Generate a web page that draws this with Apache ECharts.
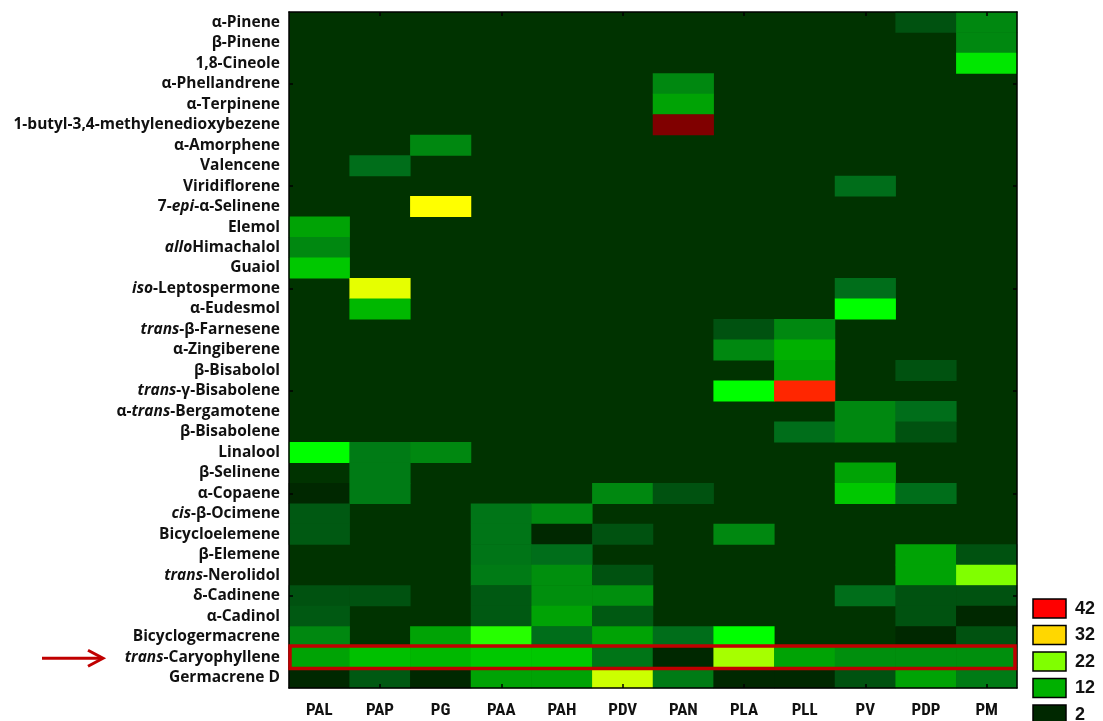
<!DOCTYPE html>
<html>
<head>
<meta charset="utf-8">
<script src="https://cdn.jsdelivr.net/npm/echarts@6/dist/echarts.min.js"></script>
<style>
html, body { margin: 0; background: #fff; }
#chart { width: 1103px; height: 721px; }
</style>
</head>
<body>
<div id="chart"></div>
<script>
// samples (columns)
const samples = ['PAL', 'PAP', 'PG', 'PAA', 'PAH', 'PDV', 'PAN', 'PLA', 'PLL', 'PV', 'PDP', 'PM'];

// compounds (rows, top to bottom); text between underscores is italic
const compounds = [
    'α-Pinene', 'β-Pinene', '1,8-Cineole', 'α-Phellandrene', 'α-Terpinene',
    '1-butyl-3,4-methylenedioxybezene', 'α-Amorphene', 'Valencene', 'Viridiflorene',
    '7-_epi_-α-Selinene', 'Elemol', '_allo_Himachalol', 'Guaiol', '_iso_-Leptospermone',
    'α-Eudesmol', '_trans_-β-Farnesene', 'α-Zingiberene', 'β-Bisabolol',
    '_trans_-γ-Bisabolene', 'α-_trans_-Bergamotene', 'β-Bisabolene', 'Linalool',
    'β-Selinene', 'α-Copaene', '_cis_-β-Ocimene', 'Bicycloelemene', 'β-Elemene',
    '_trans_-Nerolidol', 'δ-Cadinene', 'α-Cadinol', 'Bicyclogermacrene',
    '_trans_-Caryophyllene', 'Germacrene D'
];

// one row per compound, one value per sample (0 = not found)
const values = [
    [0, 0, 0, 0, 0, 0, 0, 0, 0, 0, 5, 9],
    [0, 0, 0, 0, 0, 0, 0, 0, 0, 0, 0, 9],
    [0, 0, 0, 0, 0, 0, 0, 0, 0, 0, 0, 15.5],
    [0, 0, 0, 0, 0, 0, 9, 0, 0, 0, 0, 0],
    [0, 0, 0, 0, 0, 0, 11, 0, 0, 0, 0, 0],
    [0, 0, 0, 0, 0, 0, 52, 0, 0, 0, 0, 0],
    [0, 0, 9, 0, 0, 0, 0, 0, 0, 0, 0, 0],
    [0, 7, 0, 0, 0, 0, 0, 0, 0, 0, 0, 0],
    [0, 0, 0, 0, 0, 0, 0, 0, 0, 7, 0, 0],
    [0, 0, 27, 0, 0, 0, 0, 0, 0, 0, 0, 0],
    [11, 0, 0, 0, 0, 0, 0, 0, 0, 0, 0, 0],
    [9, 0, 0, 0, 0, 0, 0, 0, 0, 0, 0, 0],
    [13.5, 0, 0, 0, 0, 0, 0, 0, 0, 0, 0, 0],
    [0, 26, 0, 0, 0, 0, 0, 0, 0, 7, 0, 0],
    [0, 12.5, 0, 0, 0, 0, 0, 0, 0, 17, 0, 0],
    [0, 0, 0, 0, 0, 0, 0, 5, 9, 0, 0, 0],
    [0, 0, 0, 0, 0, 0, 0, 9, 12, 0, 0, 0],
    [0, 0, 0, 0, 0, 0, 0, 0, 11, 0, 5, 0],
    [0, 0, 0, 0, 0, 0, 0, 17, 40.5, 0, 0, 0],
    [0, 0, 0, 0, 0, 0, 0, 0, 0, 9, 7, 0],
    [0, 0, 0, 0, 0, 0, 0, 0, 7, 9, 5, 0],
    [17, 8, 9, 0, 0, 0, 0, 0, 0, 0, 0, 0],
    [0, 8, 0, 0, 0, 0, 0, 0, 0, 11, 0, 0],
    [2, 8, 0, 0, 0, 9, 5, 0, 0, 13.5, 7, 0],
    [5.5, 0, 0, 7.5, 9, 0, 0, 0, 0, 0, 0, 0],
    [5.5, 0, 0, 7.5, 2, 5, 0, 9, 0, 0, 0, 0],
    [0, 0, 0, 7.5, 7, 0, 0, 0, 0, 0, 11, 5],
    [0, 0, 0, 8, 9.5, 5, 0, 0, 0, 0, 11, 22],
    [5, 5, 0, 5.5, 9.5, 9.5, 0, 0, 0, 7, 5, 5],
    [5.5, 0, 0, 5.5, 11, 5.5, 0, 0, 0, 0, 5, 2],
    [9, 0, 11, 18.5, 7, 11, 7, 17, 0, 0, 2, 5],
    [11, 13, 12.5, 13.5, 13.5, 7.5, 2, 23.5, 11, 9.5, 9.5, 9.5],
    [2, 5.5, 2, 11, 11, 25, 8, 2, 2, 5, 11, 8]
];

// legend levels and their colours
const legendLevels = [42, 32, 22, 12, 2];
const legendColors = ['#ff0000', '#ffd700', '#80ff00', '#00b000', '#002800'];

const highlightRow = '_trans_-Caryophyllene';

// colour stops every 5 units from 2 to 52
const scaleColors = ['#002800', '#006e1a', '#00b000', '#00ff00', '#80ff00', '#ffff00',
    '#ffd700', '#ff8000', '#ff0000', '#c00000', '#800000'];

const cells = [];
values.forEach((row, r) => {
    row.forEach((v, c) => {
        if (v > 0) cells.push([c, r, v]);
    });
});

const fmtName = (name) => name.replace(/_([^_]+)_/g, '{i|$1}');
const labelFont = '"Open Sans", Lato, sans-serif';

const chart = echarts.init(document.getElementById('chart'));

const xTick = { show: true, inside: true, length: 4, alignWithLabel: true,
    interval: (i) => i % 2 === 1, lineStyle: { color: '#000', width: 1.5 } };
const yTick = { show: true, inside: true, length: 4, alignWithLabel: true,
    interval: (i) => i % 5 === 3, lineStyle: { color: '#000', width: 1.5 } };
const axisLine = { show: true, lineStyle: { color: '#000', width: 1.5 } };

const option = {
    animation: false,
    backgroundColor: '#fff',
    grid: {
        left: 289, right: 86, top: 12, bottom: 33,
        show: true, backgroundColor: '#003300', borderWidth: 0
    },
    xAxis: [{
        type: 'category',
        data: samples,
        position: 'bottom',
        z: 5,
        axisLine: axisLine,
        axisTick: xTick,
        splitLine: { show: false },
        axisLabel: {
            margin: 14,
            color: '#111',
            fontSize: 17,
            fontWeight: 'bold',
            fontFamily: '"Liberation Sans Narrow", "Roboto Condensed", sans-serif'
        }
    }, {
        type: 'category',
        data: samples,
        position: 'top',
        z: 5,
        axisLine: axisLine,
        axisTick: xTick,
        axisLabel: { show: false }
    }],
    yAxis: [{
        type: 'category',
        data: compounds,
        inverse: true,
        position: 'left',
        z: 5,
        axisLine: axisLine,
        axisTick: yTick,
        splitLine: { show: false },
        axisLabel: {
            margin: 9,
            interval: 0,
            color: '#111',
            fontSize: 15.5,
            fontWeight: 'bold',
            fontFamily: labelFont,
            formatter: fmtName,
            rich: {
                i: { fontStyle: 'italic', fontWeight: 'bold', fontSize: 15.5, fontFamily: labelFont, color: '#111' }
            }
        }
    }, {
        type: 'category',
        data: compounds,
        inverse: true,
        position: 'right',
        z: 5,
        axisLine: axisLine,
        axisTick: yTick,
        axisLabel: { show: false }
    }],
    visualMap: {
        type: 'continuous',
        show: false,
        seriesIndex: 0,
        dimension: 2,
        min: 2,
        max: 52,
        inRange: { color: scaleColors },
        outOfRange: { color: '#002800' }
    },
    series: [{
        type: 'heatmap',
        xAxisIndex: 0,
        yAxisIndex: 0,
        data: cells,
        itemStyle: { borderWidth: 0 },
        emphasis: { disabled: true }
    }]
};

chart.setOption(option);

// red frame + arrow around the highlighted row, legend boxes
const hr = compounds.indexOf(highlightRow);
const p0 = chart.convertToPixel({ gridIndex: 0 }, [0, hr]);
const p1 = chart.convertToPixel({ gridIndex: 0 }, [samples.length - 1, hr + 1]);
const cellW = (p1[0] - p0[0]) / (samples.length - 1);
const cellH = p1[1] - p0[1];
const boxLeft = p0[0] - cellW / 2 + 1;
const boxRight = p1[0] + cellW / 2 - 2;
const boxTop = p0[1] - cellH / 2 - 1;
const boxBottom = p0[1] + cellH / 2 + 1;
const ay = p0[1] + 1;

const graphics = [{
    type: 'rect',
    z: 10,
    shape: { x: boxLeft, y: boxTop, width: boxRight - boxLeft, height: boxBottom - boxTop },
    style: { fill: null, stroke: '#c00000', lineWidth: 3.5 }
}, {
    type: 'line',
    z: 10,
    shape: { x1: 42, y1: ay, x2: 102, y2: ay },
    style: { stroke: '#c00000', lineWidth: 3 }
}, {
    type: 'polyline',
    z: 10,
    shape: { points: [[88, ay - 8], [103, ay], [88, ay + 8]] },
    style: { stroke: '#c00000', lineWidth: 3, fill: null }
}];

legendLevels.forEach((lv, i) => {
    const y = 599 + i * 26.5;
    graphics.push({
        type: 'rect',
        shape: { x: 1033, y: y, width: 33, height: 19 },
        style: { fill: legendColors[i], stroke: '#000', lineWidth: 1.5 }
    });
    graphics.push({
        type: 'text',
        x: 1075,
        y: y + 10,
        style: {
            text: String(lv),
            fill: '#111',
            font: 'bold 18px "Liberation Sans", Arial, sans-serif',
            verticalAlign: 'middle'
        }
    });
});

chart.setOption({ graphic: graphics });
</script>
</body>
</html>
